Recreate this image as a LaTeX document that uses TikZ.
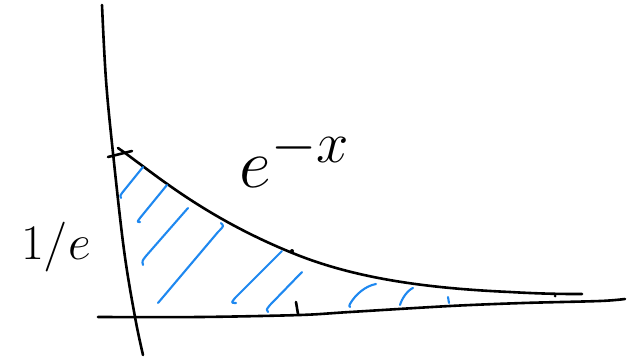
\documentclass[tikz,border=0pt]{standalone}
\usetikzlibrary{calc}
\definecolor{hatchblue}{RGB}{30,136,240}
\tikzset{
  ink/.style={draw=black, line width=2.6pt, line cap=round, line join=round},
  hatch/.style={draw=hatchblue, line width=2.1pt, line cap=round, line join=round},
  label/.style={inner sep=0pt, font=\Huge}
}
\begin{document}
\begin{tikzpicture}[x=1pt,y=-1pt]
\useasboundingbox (0,0) rectangle (631,361);
% vertical axis
\draw[ink] plot[smooth, tension=0.6] coordinates {(102,5) (106,80) (113,153) (124,250) (135,317) (143,355)};
% horizontal axis
\draw[ink] plot[smooth, tension=0.5] coordinates {(98,317) (200,317) (300,315) (350,312) (450,306) (523,303) (600,301) (625,299)};
% tick at y-axis
\draw[ink] (108,157) -- (132,151);
% curve e^{-x}
\draw[ink] (118,148) .. controls (150,170) and (200,215) .. (290,252)
  .. controls (350,277) and (420,288) .. (510,292)
  .. controls (545,294) and (565,294) .. (582,294);
% tick at x=1
\draw[ink] (296,302) -- (298,314);
% small marks
\fill (292,251) circle (2pt);
\fill (555,296) circle (1.5pt);
% hatching
\draw[hatch] (143,167) -- (122,193) .. controls (120,196) .. (121,198);
\draw[hatch] (167,185) -- (140,218) .. controls (137,222) .. (140,222);
\draw[hatch] (188,208) -- (146,256) .. controls (142,261) .. (143,265);
\draw[hatch] (221,223) .. controls (224,226) .. (218,232) -- (158,303);
\draw[hatch] (282,251) -- (235,298) .. controls (231,303) .. (236,303);
\draw[hatch] (302,272) -- (270,305) .. controls (266,310) .. (268,312);
\draw[hatch] (376,284) .. controls (365,286) and (355,295) .. (350,304) .. controls (349,306) .. (350,307);
\draw[hatch] (413,288) .. controls (408,290) and (402,298) .. (400,305);
\draw[hatch] (448,297) -- (449,303);
% labels
\node[label, scale=2.8] (ex) at (295,158) {$e^{-x}$};
\node[label, scale=2.0] (inve) at (56,247) {$1/e$};
\end{tikzpicture}
\end{document}
